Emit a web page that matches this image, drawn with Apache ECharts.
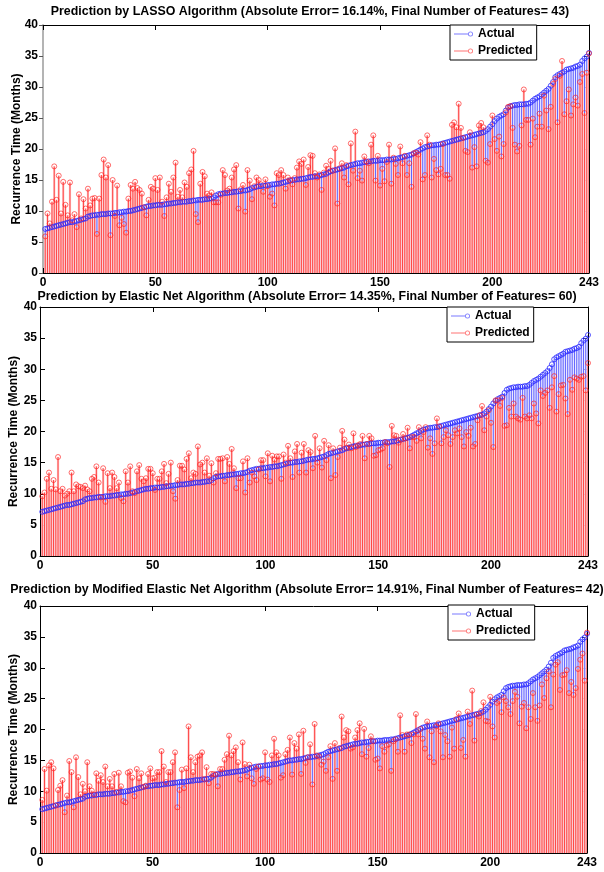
<!DOCTYPE html>
<html><head><meta charset="utf-8">
<script src="https://cdn.jsdelivr.net/npm/echarts@6/dist/echarts.min.js"></script>
<style>html,body{margin:0;padding:0;background:#fff}#c{width:604px;height:872px}</style>
</head><body><div id="c"></div>
<script>
const xTicks = [0, 50, 100, 150, 200, 243];
const titles = [
  'Prediction by LASSO Algorithm (Absolute Error= 16.14%, Final Number of Features= 43)',
  'Prediction by Elastic Net Algorithm (Absolute Error= 14.35%, Final Number of Features= 60)',
  'Prediction by Modified Elastic Net Algorithm (Absolute Error= 14.91%, Final Number of Features= 42)'
];
const seriesNames = ['Actual', 'Predicted'];
const yName = 'Recurrence Time (Months)';

const actual = [
7.1,7.2,7.3,7.4,7.5,7.6,7.7,7.8,7.9,8.0,
8.1,8.2,8.2,8.3,8.4,8.5,8.6,8.7,8.8,9.1,
9.2,9.3,9.3,9.4,9.4,9.5,9.5,9.5,9.6,9.6,
9.6,9.7,9.7,9.8,9.8,9.9,9.9,10.0,10.0,10.1,
10.2,10.3,10.4,10.5,10.6,10.7,10.8,10.8,10.9,10.9,
11.0,11.0,11.0,11.1,11.1,11.2,11.2,11.3,11.3,11.4,
11.4,11.5,11.5,11.5,11.6,11.6,11.7,11.7,11.8,11.8,
11.8,11.9,11.9,12.0,12.0,12.2,12.5,12.7,12.8,12.8,
12.9,12.9,13.0,13.0,13.1,13.1,13.2,13.2,13.3,13.3,
13.4,13.5,13.7,13.8,13.9,14.0,14.0,14.1,14.1,14.2,
14.2,14.3,14.3,14.4,14.4,14.5,14.6,14.7,14.8,14.9,
15.0,15.0,15.1,15.1,15.2,15.2,15.3,15.4,15.5,15.5,
15.6,15.6,15.7,15.8,15.9,16.0,16.2,16.4,16.5,16.6,
16.7,16.8,16.9,17.0,17.2,17.3,17.4,17.5,17.6,17.7,
17.7,17.8,17.9,17.9,18.0,18.0,18.1,18.1,18.1,18.2,
18.2,18.2,18.3,18.3,18.3,18.4,18.4,18.5,18.6,18.7,
18.8,18.9,19.0,19.1,19.3,19.5,19.7,19.9,20.1,20.3,
20.4,20.5,20.6,20.6,20.7,20.7,20.8,20.9,21.0,21.1,
21.2,21.3,21.4,21.5,21.6,21.7,21.8,21.9,22.0,22.1,
22.2,22.3,22.4,22.5,22.6,22.7,22.9,23.2,23.6,24.0,
24.5,24.9,25.2,25.4,25.6,26.2,26.7,26.9,27.0,27.1,
27.1,27.2,27.2,27.2,27.3,27.3,27.5,27.8,28.1,28.3,
28.5,28.8,29.1,29.4,29.7,30.2,30.8,31.6,31.9,32.1,
32.3,32.5,32.8,32.9,33.0,33.1,33.3,33.4,33.6,34.2,
34.6,34.9,35.5
];

const predictedLasso = [
5.9,9.6,8.0,11.5,17.2,11.8,15.7,9.6,14.7,11.0,
9.3,14.6,8.5,9.5,7.4,12.7,8.8,11.9,10.4,13.6,
10.9,12.0,12.1,6.3,12.0,15.8,18.3,15.4,17.4,6.1,
15.0,9.2,14.1,7.7,8.9,7.9,6.5,12.0,14.2,13.6,
14.7,13.7,13.4,12.8,10.6,9.3,11.8,13.9,13.6,15.3,
13.4,15.4,11.5,9.2,12.2,14.4,13.1,15.4,17.8,12.3,
13.4,12.2,14.6,13.9,16.1,16.7,19.7,9.5,8.2,14.4,
16.3,15.6,12.8,12.5,13.0,11.4,11.4,11.4,12.6,16.6,
15.8,13.3,13.6,15.4,16.7,17.4,10.4,13.5,14.2,9.9,
16.6,14.9,11.9,14.0,15.4,15.0,14.3,13.1,15.1,14.0,
12.3,12.8,10.9,16.1,15.8,16.6,15.8,13.6,15.4,15.0,
14.3,15.3,17.0,18.0,17.6,18.3,14.2,17.1,19.0,18.9,
16.1,15.4,15.9,13.4,16.2,17.3,16.8,18.1,16.5,20.1,
11.2,16.9,17.7,15.4,17.4,14.3,20.9,16.5,22.8,15.3,
16.5,14.9,18.8,18.0,17.7,20.7,22.2,14.9,18.9,14.1,
16.8,14.8,17.9,20.7,14.4,18.6,17.6,15.8,20.4,17.7,
18.9,15.8,17.7,13.9,19.3,19.4,19.1,21.1,15.1,15.8,
22.2,20.7,15.4,18.4,16.6,15.9,16.8,20.8,15.8,15.8,
15.2,23.9,24.3,23.5,27.3,23.4,21.8,19.7,19.5,22.7,
17.0,20.3,17.2,23.8,24.2,23.5,18.1,17.8,20.8,25.4,
21.6,19.7,22.0,18.8,20.8,25.9,26.8,26.9,23.4,20.7,
19.6,20.5,23.8,29.6,24.7,24.7,20.7,24.9,21.9,23.6,
25.7,23.6,28.6,26.2,23.2,26.8,30.5,31.3,24.3,31.8,
34.2,25.6,27.7,29.6,25.4,27.2,28.3,27.0,30.8,32.1,
25.8,32.3,35.4
];

const predictedElastic = [
9.6,10.2,12.4,13.4,10.8,12.2,10.7,15.9,10.4,10.8,
9.7,10.0,10.4,13.4,10.4,11.5,11.2,11.1,10.9,11.3,
10.7,10.4,12.4,12.7,14.4,11.8,9.4,14.1,8.7,13.3,
10.9,13.4,12.7,10.9,11.8,9.3,8.8,13.6,11.8,14.4,
10.4,10.1,13.6,14.6,12.4,12.0,12.5,14.0,14.0,13.3,
10.6,12.4,12.4,13.6,14.8,11.7,13.2,15.0,10.4,9.2,
12.2,14.5,14.5,13.9,15.6,16.5,12.5,13.4,13.2,17.6,
14.7,15.0,13.4,15.7,12.9,14.9,11.8,13.3,15.6,15.6,
15.7,12.0,15.9,14.8,17.2,14.1,10.9,12.5,12.5,15.2,
10.2,15.7,11.8,13.4,12.8,12.2,13.9,15.4,15.4,12.8,
16.5,12.0,16.1,15.5,16.0,16.0,12.4,16.3,15.0,17.7,
15.7,12.7,16.8,18.0,13.4,16.6,18.0,13.4,17.0,16.7,
14.1,19.3,15.0,17.3,14.2,18.5,15.4,17.8,12.5,17.3,
13.0,15.9,17.4,20.1,18.7,17.4,17.9,17.3,19.7,17.5,
17.8,18.0,19.3,15.7,18.0,19.3,18.9,16.1,16.2,17.0,
17.1,17.3,18.3,18.1,14.3,20.9,19.4,19.3,18.2,18.7,
19.6,18.9,20.6,17.3,19.1,19.1,18.5,20.7,18.9,19.9,
20.7,17.4,18.9,16.4,18.1,22.1,20.8,18.1,19.1,20.2,
19.4,18.0,19.1,20.2,19.7,20.5,19.1,17.6,19.9,19.3,
20.6,17.6,18.0,21.8,22.6,24.1,20.2,22.4,23.4,21.4,
17.5,25.0,25.0,24.1,25.4,20.9,21.0,23.8,22.4,24.5,
22.4,22.1,21.9,25.4,22.4,22.1,22.6,22.1,24.5,22.9,
21.3,26.6,25.7,26.2,26.6,23.8,27.1,28.9,23.2,26.0,
27.4,27.5,25.3,22.8,28.3,26.7,28.7,28.5,28.3,28.8,
28.9,26.6,31.0
];

const predictedModified = [
8.6,13.6,10.1,14.2,14.7,13.7,7.7,10.2,10.9,11.8,
6.6,9.3,14.9,13.1,7.4,15.5,12.3,9.5,11.2,10.0,
14.7,10.8,10.1,9.5,12.9,11.7,12.6,11.5,14.0,10.8,
12.0,10.8,12.8,9.9,13.0,10.8,8.4,8.2,13.0,13.2,
12.2,9.2,13.6,12.1,12.9,10.7,10.9,12.8,13.7,12.1,
12.2,13.1,13.1,16.5,14.0,11.5,13.1,13.1,14.7,16.3,
7.4,10.2,13.5,10.5,13.7,20.5,15.5,13.1,14.7,15.6,
15.8,16.3,12.0,13.9,11.3,12.8,12.8,12.7,10.8,13.6,
13.6,15.1,16.0,19.0,15.8,16.5,17.1,14.7,11.9,17.9,
14.4,12.4,14.3,12.1,11.2,13.6,14.0,11.9,12.1,16.3,
11.9,11.5,15.8,18.5,16.3,15.8,12.2,12.6,16.0,16.7,
18.7,12.7,17.8,16.9,19.2,12.8,19.8,14.6,15.5,17.6,
11.1,20.9,15.8,15.6,14.3,14.8,13.3,15.5,17.3,12.0,
17.8,13.3,17.0,22.1,18.7,19.9,19.7,16.9,17.1,18.7,
19.9,21.0,16.0,20.1,15.6,17.0,18.9,18.1,15.1,15.3,
13.7,17.3,16.4,17.4,17.6,13.3,18.1,18.4,16.4,22.3,
19.1,16.4,19.2,19.2,17.8,19.2,22.5,19.2,20.1,18.5,
16.9,21.3,15.5,19.7,14.7,20.5,21.0,19.7,15.5,19.1,
18.1,15.6,20.3,16.9,21.7,22.6,17.0,18.3,15.6,22.9,
20.9,26.3,18.2,22.4,22.1,23.0,24.4,21.4,21.3,25.3,
20.5,18.7,24.3,24.6,22.8,25.2,24.6,23.6,22.5,24.6,
26.1,25.3,21.0,23.7,24.3,20.2,23.6,21.7,25.9,23.6,
21.4,23.9,27.3,25.1,28.3,29.4,23.6,28.9,30.5,30.9,
26.4,28.8,28.9,29.6,25.9,27.7,25.6,26.7,29.8,31.3,
32.3,27.9,35.7
];

const predictedSets = [predictedLasso, predictedElastic, predictedModified];

const FONT = '"Liberation Sans", Arial, Helvetica, sans-serif';
// stem = thin line with a soft band around it (imitates the blurred look of the original)
const BLUE_LINE = '#6262ff', BLUE_BAND = '#e2e2ff';
const RED_LINE = '#ff4646', RED_BAND = '#ffc6c6';
const BLUE_MK = '#2a2aff', RED_MK = 'rgba(255,30,30,0.9)';
const grids = [
  {left: 43, top: 25, width: 546, height: 248},
  {left: 39, top: 307, width: 549, height: 249},
  {left: 40, top: 606, width: 547, height: 247}
];
const legendPos = [{left: 450, top: 25}, {left: 447, top: 307}, {left: 448, top: 605}];
const titlePos = [[310, 12], [307, 297], [307, 590]];
const legendIcon = 'path://M0,2.1 L14.3,2.1 L14.3,2.9 L0,2.9 Z M14,2.5 A2.5,2.5 0 1,1 19,2.5 A2.5,2.5 0 1,1 14,2.5 Z M14.8,2.5 A1.7,1.7 0 1,0 18.2,2.5 A1.7,1.7 0 1,0 14.8,2.5 Z';

const axisLineStyle = {color: '#000', width: 1};
const labelStyle = {color: '#000', fontWeight: 'bold', fontSize: 12, fontFamily: FONT};

const xAxes = [], yAxes = [], series = [];

function stem(i, values, lineColor, bandColor) {
  return {
    type: 'custom', xAxisIndex: 2 * i, yAxisIndex: 2 * i, silent: true, clip: true,
    data: values.map((v, k) => [k + 1, v]),
    renderItem: (p, api) => {
      const a = api.coord([api.value(0), 0]);
      const b = api.coord([api.value(0), api.value(1)]);
      const w = api.size([1, 0])[0];
      return {type: 'group', children: [
        {type: 'rect', shape: {x: a[0] - w / 2, y: b[1], width: w, height: a[1] - b[1]},
          style: {fill: bandColor}},
        {type: 'line', shape: {x1: a[0], y1: a[1], x2: b[0], y2: b[1]},
          style: {stroke: lineColor, lineWidth: 1}}
      ]};
    }
  };
}
function markers(i, values, color, bw) {
  return {
    type: 'scatter', xAxisIndex: 2 * i, yAxisIndex: 2 * i, silent: true,
    symbol: 'circle', symbolSize: 5,
    itemStyle: {color: 'rgba(0,0,0,0)', borderColor: color, borderWidth: bw},
    data: values.map((v, k) => [k + 1, v])
  };
}

grids.forEach((g, i) => {
  const first = i === 0;
  xAxes.push({gridIndex: i, type: 'value', min: 0, max: 243, position: 'bottom',
    axisLine: {show: true, onZero: false, lineStyle: axisLineStyle},
    axisTick: {show: true, inside: true, length: 5, customValues: xTicks, lineStyle: axisLineStyle},
    axisLabel: Object.assign({customValues: xTicks, margin: 4}, labelStyle),
    splitLine: {show: false}});
  xAxes.push({gridIndex: i, type: 'value', min: 0, max: 243, position: 'top',
    axisLine: {show: true, onZero: false, lineStyle: axisLineStyle},
    axisTick: {show: true, inside: true, length: 5, customValues: xTicks, lineStyle: axisLineStyle},
    axisLabel: {show: false}, splitLine: {show: false}});
  yAxes.push({gridIndex: i, type: 'value', min: 0, max: 40, interval: 5, position: 'left',
    name: yName, nameLocation: 'middle', nameGap: 20, nameMoveOverlap: false,
    nameTextStyle: {color: '#000', fontWeight: 'bold', fontSize: 12, fontFamily: FONT},
    axisLine: {show: true, onZero: false,
      lineStyle: first ? {color: '#b4b4b4', width: 2} : axisLineStyle},
    axisTick: {show: true, inside: !first, length: first ? 4 : 5,
      lineStyle: first ? {color: '#555', width: 1} : axisLineStyle},
    axisLabel: Object.assign({margin: first ? 5 : 3}, labelStyle),
    splitLine: {show: false}});
  yAxes.push({gridIndex: i, type: 'value', min: 0, max: 40, interval: 5, position: 'right',
    axisLine: {show: true, onZero: false, lineStyle: axisLineStyle},
    axisTick: {show: true, inside: true, length: 5, lineStyle: axisLineStyle},
    axisLabel: {show: false}, splitLine: {show: false}});

  const pred = predictedSets[i];
  series.push(stem(i, actual, BLUE_LINE, BLUE_BAND));
  series.push(stem(i, pred, RED_LINE, RED_BAND));
  series.push(markers(i, actual, BLUE_MK, 1));
  series.push(markers(i, pred, RED_MK, 0.9));
});

// legend-only series (no data), used for the legend entries
series.push({type: 'scatter', name: seriesNames[0], xAxisIndex: 0, yAxisIndex: 0, data: [],
  itemStyle: {color: 'rgba(60,60,255,0.85)'}});
series.push({type: 'scatter', name: seriesNames[1], xAxisIndex: 0, yAxisIndex: 0, data: [],
  itemStyle: {color: 'rgba(255,50,50,0.85)'}});

const option = {
  animation: false,
  backgroundColor: '#fff',
  grid: grids,
  xAxis: xAxes,
  yAxis: yAxes,
  legend: legendPos.map(p => ({
    left: p.left, top: p.top, orient: 'vertical', data: seriesNames,
    icon: legendIcon, itemWidth: 19, itemHeight: 5,
    backgroundColor: '#fff', borderColor: '#000', borderWidth: 1, borderRadius: 0,
    padding: [2, 4, 2, 4], itemGap: 3,
    selectedMode: false,
    textStyle: {color: '#000', fontWeight: 'bold', fontSize: 12, lineHeight: 14, fontFamily: FONT}
  })),
  graphic: titles.map((t, i) => ({
    type: 'text', x: titlePos[i][0], y: titlePos[i][1], silent: true,
    style: {text: t, fill: '#000', font: 'bold 12.4px ' + FONT, textAlign: 'center', textVerticalAlign: 'middle'}
  })),
  series: series
};
const chart = echarts.init(document.getElementById('c'), null, {renderer: 'canvas'});
chart.setOption(option);
</script></body></html>
